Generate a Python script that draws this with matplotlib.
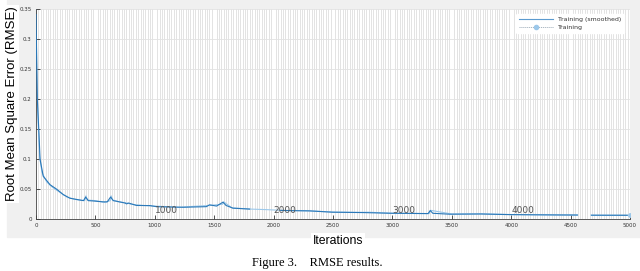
import numpy as np
import matplotlib.pyplot as plt
from matplotlib.patches import Rectangle
from matplotlib.ticker import MultipleLocator, FuncFormatter

# smoothed training RMSE, nan = break in the line
iters_smooth = [0, 5, 11, 25, 34, 61, 118, 174, 230, 286, 370, 400, 418, 440,
                480, 563, 600, 628, 650, 678, 750, 762, 780, 846, 958, 1014,
                1238, 1434, 1460, 1520, 1574, 1600, 1658, 1798, np.nan,
                2060, 2134, 2302, 2496, 2750, 2975, 3300, 3319, 3340, 3479,
                3745, 3983, 4403, 4557, np.nan, 4677, 4977]
rmse_smooth = [0.34, 0.27, 0.2, 0.143, 0.1, 0.0715, 0.0575, 0.05, 0.041, 0.035,
               0.032, 0.031, 0.037, 0.031, 0.0305, 0.029, 0.029, 0.037, 0.031,
               0.030, 0.027, 0.0256, 0.027, 0.023, 0.0228, 0.021, 0.020, 0.021,
               0.024, 0.022, 0.0285, 0.023, 0.0185, 0.017, np.nan,
               0.0148, 0.0145, 0.014, 0.0118, 0.0112, 0.0101, 0.0095, 0.0145,
               0.010, 0.0085, 0.0088, 0.0078, 0.0072, 0.0071, np.nan,
               0.0068, 0.0067]

# raw training RMSE
iters_raw = [0, 4, 9, 18, 30, 50, 90, 140, 200, 260, 330, 410, 421, 432, 500,
             580, 625, 632, 645, 700, 770, 800, 900, 1000, 1200, 1450, 1570,
             1580, 1650, 1800, 1950, 2100, 2300, 2500, 2700, 2800, 3000, 3310,
             3320, 3500, 3750, 4000, 4200, 4400, 4560, np.nan, 4670, 4800, 5000]
rmse_raw = [0.35, 0.3, 0.22, 0.16, 0.105, 0.078, 0.062, 0.053, 0.045, 0.037,
            0.033, 0.031, 0.039, 0.032, 0.031, 0.028, 0.031, 0.039, 0.032,
            0.029, 0.027, 0.025, 0.023, 0.022, 0.020, 0.023, 0.025, 0.029,
            0.019, 0.017, 0.016, 0.0145, 0.014, 0.012, 0.0115, 0.0118, 0.010,
            0.0095, 0.015, 0.0088, 0.0092, 0.0079, 0.0075, 0.0073, 0.0071,
            np.nan, 0.0069, 0.0067, 0.0068]

epoch_marks = [1000, 2000, 3000, 4000]

fig = plt.figure(figsize=(6.4, 2.71), dpi=100)
fig.add_artist(Rectangle((7 / 640, 1 - 237 / 271), 1, 237 / 271,
                         transform=fig.transFigure, color='#f0f0f0', zorder=-10))

ax = fig.add_axes([36 / 640, 1 - 219.3 / 271, 594 / 640, 210.6 / 271])
ax.set_facecolor('white')

ax.plot(iters_raw, rmse_raw, color='#9cc8ea', lw=0.8, ls='-',
        marker='o', ms=2.5, markevery=[len(iters_raw) - 1], label='Training', zorder=2)
ax.plot(iters_smooth, rmse_smooth, color='#2a78b8', lw=0.8,
        label='Training (smoothed)', zorder=3)

for e in epoch_marks:
    ax.text(e, 0.0075, str(e), fontsize=6.5, color='#555555', ha='left', va='bottom')

ax.set_xlim(0, 5000)
ax.set_ylim(0, 0.35)
ax.xaxis.set_major_locator(MultipleLocator(500))
ax.xaxis.set_minor_locator(MultipleLocator(20))
ax.yaxis.set_major_locator(MultipleLocator(0.05))
ax.yaxis.set_major_formatter(FuncFormatter(lambda v, p: '%g' % round(v, 2)))
ax.grid(True, axis='x', which='minor', color='#dedede', lw=0.6)
ax.grid(True, axis='y', which='major', color='#e2e2e2', lw=0.6)
ax.set_axisbelow(True)
ax.tick_params(which='major', direction='in', length=3, width=0.6,
               labelsize=4, colors='#333333', pad=3)
ax.tick_params(which='minor', length=0)
for s in ['top', 'right']:
    ax.spines[s].set_visible(False)
for s in ['left', 'bottom']:
    ax.spines[s].set_color('#404040')
    ax.spines[s].set_linewidth(0.6)

handles, labels = ax.get_legend_handles_labels()
h_smooth = plt.Line2D([], [], color='#5b9bd0', lw=0.8)
h_raw = plt.Line2D([], [], color='#9aa9b6', lw=0.7, ls=(0, (1, 1)), marker='o', ms=3,
                   markerfacecolor='#9cc8ea', markeredgecolor='#9cc8ea')
ax.legend([h_smooth, h_raw], ['Training (smoothed)', 'Training'],
          loc='upper right', bbox_to_anchor=(0.995, 0.99), fontsize=4.5,
          frameon=True, facecolor='white', edgecolor='white', framealpha=1,
          handlelength=5.5, labelcolor='#333333')

fig.text(12 / 640, 1 - 104 / 271, 'Root Mean Square Error (RMSE)', rotation=90,
         ha='center', va='center', fontsize=9.5, family='Liberation Sans',
         bbox=dict(facecolor='white', edgecolor='none', pad=1))
fig.text(338 / 640, 1 - 241 / 271, 'Iterations', ha='center', va='center',
         fontsize=8.8, family='Liberation Sans',
         bbox=dict(facecolor='white', edgecolor='none', pad=1.5))
fig.text(317 / 640, 1 - 263 / 271, 'Figure 3.    RMSE results.', ha='center',
         va='center', fontsize=9, family='Liberation Serif')

fig.savefig('out.png', dpi=100)
